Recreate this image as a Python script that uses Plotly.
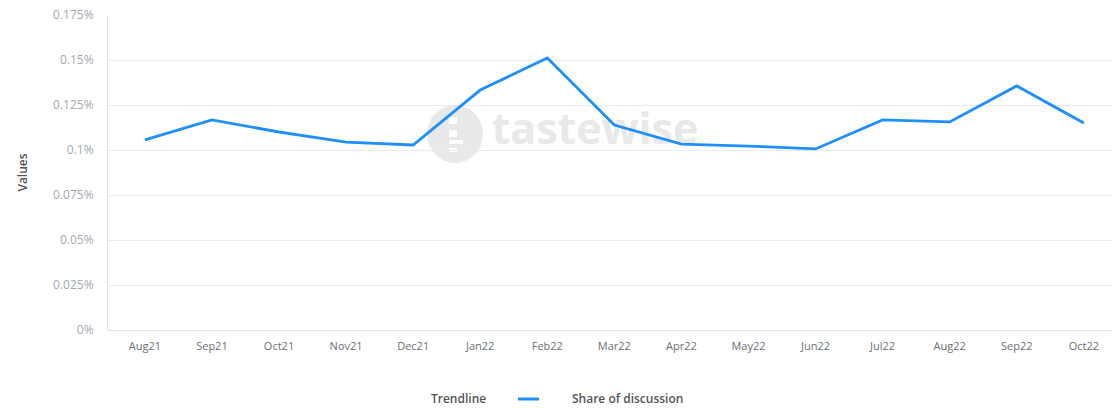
import plotly.graph_objects as go

months = ["Aug21", "Sep21", "Oct21", "Nov21", "Dec21", "Jan22", "Feb22", "Mar22",
          "Apr22", "May22", "Jun22", "Jul22", "Aug22", "Sep22", "Oct22"]
share = [0.1056, 0.1167, 0.1100, 0.1044, 0.1028, 0.1333, 0.1511, 0.1139,
         0.1033, 0.1022, 0.1006, 0.1167, 0.1156, 0.1356, 0.1150]
y_ticks = [0, 0.025, 0.05, 0.075, 0.1, 0.125, 0.15, 0.175]
y_labels = ["0%", "0.025%", "0.05%", "0.075%", "0.1%", "0.125%", "0.15%", "0.175%"]
series_name = "Share of discussion"
legend_title = "Trendline"
watermark = "tastewise"

FONT = "Open Sans"
L, R, T, B, W, H = 108, 0, 15, 78, 1112, 408
PW, PH = W - L - R, H - T - B
XR = [-0.55, 14.42]
YR = [0, 0.175]


def px(x):
    return (x - L) / PW


def py(y):
    return (H - B - y) / PH


def dx(x):
    return XR[0] + px(x) * (XR[1] - XR[0])


def dy(y):
    return YR[0] + py(y) * (YR[1] - YR[0])


idx = list(range(len(months)))

fig = go.Figure()
# watermark text (under the line)
fig.add_trace(go.Scatter(
    x=[dx(595)], y=[dy(133)], mode="text", text=[watermark],
    textposition="middle center", hoverinfo="skip", showlegend=False,
    textfont=dict(family=FONT, size=43, color="#e9e9e9", weight="bold"),
))
fig.add_trace(go.Scatter(
    x=idx, y=share, mode="lines", name=series_name,
    line=dict(color="#1f8ffc", width=2.8), showlegend=False,
))

# watermark logo
cx, cy = px(455), py(134)
fig.add_shape(type="circle", xref="paper", yref="paper",
              xsizemode="pixel", ysizemode="pixel",
              xanchor=cx, yanchor=cy,
              x0=-28, x1=28, y0=-29, y1=29,
              fillcolor="#e9e9e9", line=dict(width=0), layer="below")
for (x0, x1, y0, y1) in [(-6, 2, 10, 17), (-6, 2, -3, 4), (-6, 8, -10, -6), (-6, 2, -18, -14)]:
    fig.add_shape(type="rect", xref="paper", yref="paper",
                  xsizemode="pixel", ysizemode="pixel",
                  xanchor=cx, yanchor=cy,
                  x0=x0, x1=x1, y0=y0, y1=y1,
                  fillcolor="#ffffff", line=dict(width=0), layer="below")

# legend (drawn manually)
fig.add_annotation(text=legend_title, xref="paper", yref="paper",
                   x=px(458), y=py(398), xanchor="center", yanchor="middle", showarrow=False,
                   font=dict(family=FONT, size=12, color="#555", weight=600))
fig.add_shape(type="line", xref="paper", yref="paper",
              x0=px(518), x1=px(539), y0=py(399), y1=py(399),
              line=dict(color="#1f8ffc", width=3))
fig.add_annotation(text=series_name, xref="paper", yref="paper",
                   x=px(627), y=py(398), xanchor="center", yanchor="middle", showarrow=False,
                   font=dict(family=FONT, size=12, color="#555", weight=600))

fig.update_layout(
    width=W, height=H,
    margin=dict(l=L, r=R, t=T, b=B),
    paper_bgcolor="white", plot_bgcolor="white",
    font=dict(family=FONT, size=11, color="#666"),
    showlegend=False,
    xaxis=dict(
        range=XR, tickvals=idx, ticktext=months,
        showgrid=False, showline=True, linecolor="#dfe3ee", linewidth=1,
        zeroline=False, ticks="", ticklabelstandoff=6,
        tickfont=dict(family=FONT, size=11, color="#6b6f76"),
    ),
    yaxis=dict(
        range=YR, tickvals=y_ticks, ticktext=y_labels,
        showgrid=True, gridcolor="#ebebeb", gridwidth=1,
        showline=True, linecolor="#e6e6e6", zeroline=False,
        ticks="", ticklabelstandoff=11,
        tickfont=dict(family=FONT, size=12, color="#a3a8b0"),
        title=dict(text="Values", font=dict(family=FONT, size=12, color="#555", weight=600), standoff=22),
    ),
)

fig.write_html("out.html")
